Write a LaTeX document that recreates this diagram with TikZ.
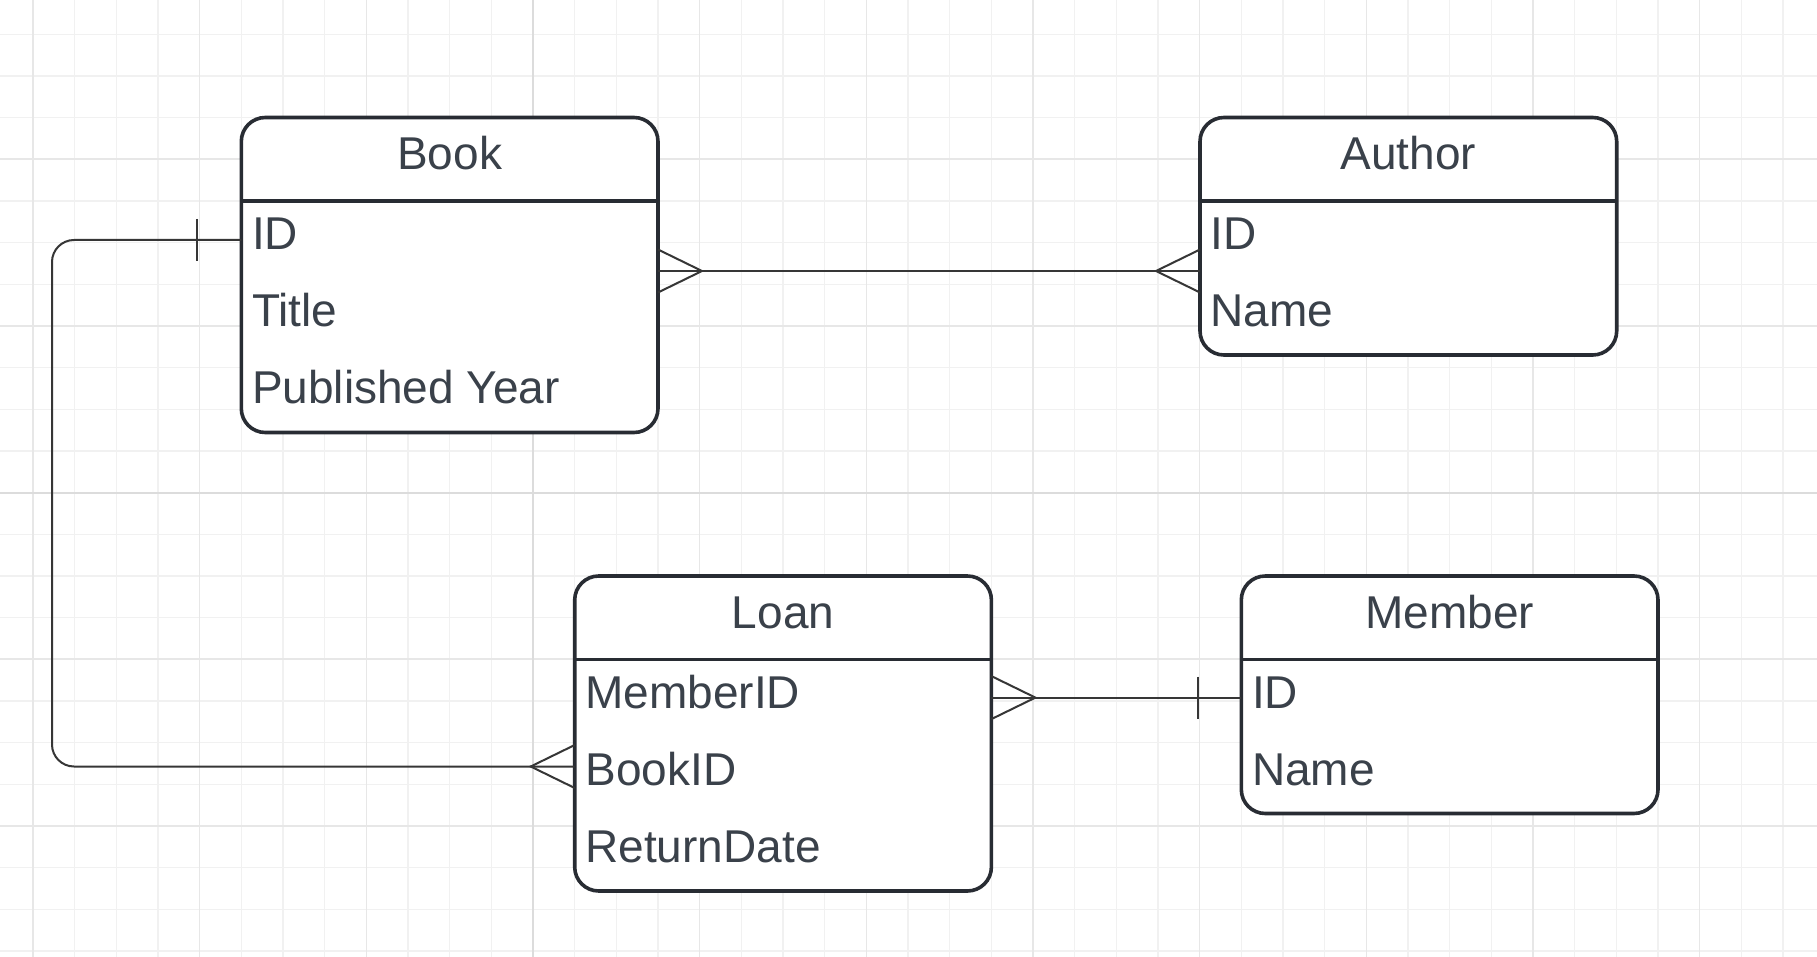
\documentclass[tikz,border=0pt]{standalone}
\usepackage{fontspec}
\setmainfont{Liberation Sans}
\usetikzlibrary{calc}
\definecolor{txt}{HTML}{3A414A}
\definecolor{bord}{HTML}{282C33}
\definecolor{conncol}{HTML}{363636}
\definecolor{gminor}{HTML}{F1F1F1}
\definecolor{gmid}{HTML}{E7E7E7}
\definecolor{gmaj}{HTML}{DCDCDC}
\begin{document}
\begin{tikzpicture}[x=1pt,y=-1pt,
  entity/.style={draw=bord, line width=3.6pt, fill=white, rounded corners=24pt,
    minimum width=416.7pt, inner sep=0pt, outer sep=0pt},
  sepline/.style={draw=bord, line width=3.6pt},
  hdr/.style={anchor=base, inner sep=0pt, text=txt, font=\fontsize{46pt}{54pt}\selectfont},
  attr/.style={anchor=base west, inner sep=0pt, text=txt, font=\fontsize{46pt}{54pt}\selectfont},
  conn/.style={draw=conncol, line width=2pt},
  gridminor/.style={draw=gminor, line width=1.3pt},
  gridmid/.style={draw=gmid, line width=1.5pt},
  gridmaj/.style={draw=gmaj, line width=2pt}]
\useasboundingbox (0,0) rectangle (1817,957);
\fill[white] (0,0) rectangle (1817,957);
% grid
\foreach \k in {0,...,42}{
  \draw[gridminor] ({33+\k*41.667},0) -- ({33+\k*41.667},957);
}
\foreach \k in {0,...,22}{
  \draw[gridminor] (0,{34.2+\k*41.667}) -- (1817,{34.2+\k*41.667});
}
\foreach \k in {0,4,8,16,20,24,28,32,36,40}{
  \draw[gridmid] ({33+\k*41.667},0) -- ({33+\k*41.667},957);
}
\foreach \k in {3,7,15,19}{
  \draw[gridmid] (0,{34.2+\k*41.667}) -- (1817,{34.2+\k*41.667});
}
\draw[gridmaj] (533,0) -- (533,957);
\draw[gridmaj] (0,492.5) -- (1817,492.5);

% entities
\node[entity, minimum height=315pt] (book) at (449.65,275) {};
\node[entity, minimum height=237.5pt] (author) at (1408.35,236.25) {};
\node[entity, minimum height=315pt] (loan) at (783.05,733.5) {};
\node[entity, minimum height=237.5pt] (member) at (1449.65,694.75) {};

\foreach \e in {book,author,loan,member}{
  \draw[sepline] ($(\e.north west)+(0,83.3)$) -- ($(\e.north east)+(0,83.3)$);
}

% titles
\node[hdr] (bookT) at ($(book.north)+(0,52)$) {Book};
\node[hdr] (authorT) at ($(author.north)+(0,52)$) {Author};
\node[hdr] (loanT) at ($(loan.north)+(0,52)$) {Loan};
\node[hdr] (memberT) at ($(member.north)+(0,52)$) {Member};

% attributes
\node[attr] (bookId) at ($(book.north west)+(10.5,132)$) {ID};
\node[attr] (bookTitle) at ($(book.north west)+(10.5,209.2)$) {Title};
\node[attr] (bookYear) at ($(book.north west)+(10.5,286.4)$) {Published Year};
\node[attr] (authorId) at ($(author.north west)+(10.5,132)$) {ID};
\node[attr] (authorName) at ($(author.north west)+(10.5,209.2)$) {Name};
\node[attr] (loanMember) at ($(loan.north west)+(10.5,132)$) {MemberID};
\node[attr] (loanBook) at ($(loan.north west)+(10.5,209.2)$) {BookID};
\node[attr] (loanDate) at ($(loan.north west)+(10.5,286.4)$) {ReturnDate};
\node[attr] (memberId) at ($(member.north west)+(10.5,132)$) {ID};
\node[attr] (memberName) at ($(member.north west)+(10.5,209.2)$) {Name};

% connector Book -- Author (many to many)
\coordinate (ba1) at (book.east |- 0,271);
\coordinate (ba2) at (author.west |- 0,271);
\draw[conn] (ba1) -- (ba2);
\draw[conn] ($(ba1)+(0,-21.5)$) -- ($(ba1)+(44,0)$) -- ($(ba1)+(0,21.5)$);
\draw[conn] ($(ba2)+(0,-21.5)$) -- ($(ba2)+(-44,0)$) -- ($(ba2)+(0,21.5)$);

% connector Book.ID -- Loan.BookID (one to many)
\coordinate (bl1) at (book.west |- 0,240);
\coordinate (bl2) at (loan.west |- 0,766.5);
\coordinate (blelbow) at (52,240);
\draw[conn, rounded corners=22pt] (bl1) -- (blelbow) |- (bl2);
\draw[conn] ($(bl1)+(-44,-21)$) -- ($(bl1)+(-44,21)$);
\draw[conn] ($(bl2)+(0,-21.5)$) -- ($(bl2)+(-44,0)$) -- ($(bl2)+(0,21.5)$);

% connector Loan -- Member (many to one)
\coordinate (lm1) at (loan.east |- 0,697.6);
\coordinate (lm2) at (member.west |- 0,697.6);
\draw[conn] (lm1) -- (lm2);
\draw[conn] ($(lm1)+(0,-21.5)$) -- ($(lm1)+(44,0)$) -- ($(lm1)+(0,21.5)$);
\draw[conn] ($(lm2)+(-43.5,-21)$) -- ($(lm2)+(-43.5,21)$);
\end{tikzpicture}
\end{document}
